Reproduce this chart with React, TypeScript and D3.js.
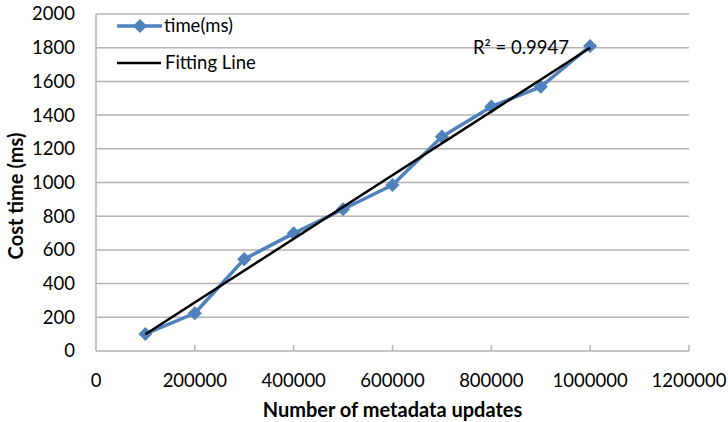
import React from "react";
import * as d3 from "d3";

const updates = [100000, 200000, 300000, 400000, 500000, 600000, 700000, 800000, 900000, 1000000];
const timeMs = [101, 224, 545, 698, 841, 985, 1272, 1450, 1568, 1810];
const xTicks = [0, 200000, 400000, 600000, 800000, 1000000, 1200000];
const yTicks = [0, 200, 400, 600, 800, 1000, 1200, 1400, 1600, 1800, 2000];
const seriesName = "time(ms)";
const fitName = "Fitting Line";
const r2Label = "R² = 0.9947";

const W = 728, H = 422;
const FONT = "Lato, 'Open Sans', sans-serif";
const FS = 18.5;

export default function App() {
  const x = d3.scaleLinear().domain([0, 1200000]).range([96, 689]);
  const y = d3.scaleLinear().domain([0, 2000]).range([351, 14]);

  const mx = d3.mean(updates)!;
  const my = d3.mean(timeMs)!;
  const slope = d3.sum(updates.map((v, i) => (v - mx) * (timeMs[i] - my))) / d3.sum(updates.map((v) => (v - mx) ** 2));
  const intercept = my - slope * mx;
  const x0 = updates[0], x1 = updates[updates.length - 1];

  const line = d3.line<number>().x((_, i) => x(updates[i])).y((d) => y(d));
  const diamond = d3.symbol(d3.symbolSquare, 100)()!;
  const blue = "#4f81bd";
  const grid = "#b3b3b3";

  return (
    <svg width={W} height={H} style={{ position: "absolute", left: 0, top: 0, background: "#fff" }} fontFamily={FONT}>
      <rect width={W} height={H} fill="#fff" />
      {yTicks.map((t) => (
        <g key={t}>
          {t > 0 && <line x1={96} x2={689} y1={y(t)} y2={y(t)} stroke={grid} strokeWidth={1.5} />}
          <text x={75} y={y(t)} dy="0.35em" textAnchor="end" fontSize={FS} fill="#000">{t}</text>
        </g>
      ))}
      <line x1={96} x2={96} y1={14} y2={351} stroke={grid} strokeWidth={1.5} />
      <line x1={96} x2={689} y1={351} y2={351} stroke={grid} strokeWidth={1.5} />
      {xTicks.map((t) => (
        <g key={t}>
          {t > 0 && <line x1={x(t)} x2={x(t)} y1={345} y2={351} stroke={grid} strokeWidth={1.5} />}
          <text x={x(t)} y={381} dy="0.35em" textAnchor="middle" fontSize={FS} fill="#000">{t}</text>
        </g>
      ))}
      <path d={line(timeMs)!} fill="none" stroke={blue} strokeWidth={3.5} strokeLinejoin="round" />
      {timeMs.map((v, i) => (
        <path key={i} d={diamond} transform={`translate(${x(updates[i])},${y(v)}) rotate(45)`} fill={blue} />
      ))}
      <line x1={x(x0)} y1={y(slope * x0 + intercept)} x2={x(x1)} y2={y(slope * x1 + intercept)} stroke="#000" strokeWidth={2.5} />
      <text x={473} y={48} dy="0.35em" fontSize={FS} fill="#000">{r2Label}</text>

      <line x1={117} x2={162} y1={26} y2={26} stroke={blue} strokeWidth={3.5} />
      <path d={diamond} transform="translate(140,26) rotate(45)" fill={blue} />
      <text x={164} y={26} dy="0.35em" fontSize={FS} fill="#000">{seriesName}</text>
      <line x1={117} x2={161} y1={63} y2={63} stroke="#000" strokeWidth={2.5} />
      <text x={165} y={63} dy="0.35em" fontSize={FS} fill="#000">{fitName}</text>

      <text x={392.5} y={410} dy="0.35em" textAnchor="middle" fontSize={20} fontWeight="bold" fill="#000">Number of metadata updates</text>
      <text transform="translate(16,196) rotate(-90)" dy="0.35em" textAnchor="middle" fontSize={20} fontWeight="bold" fill="#000">Cost time (ms)</text>
    </svg>
  );
}
